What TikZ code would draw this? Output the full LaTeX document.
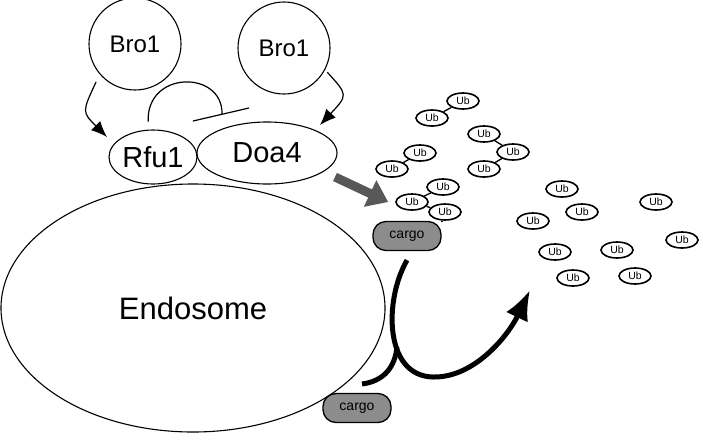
\documentclass[tikz,border=0pt]{standalone}
\usepackage{fontspec}
\setmainfont{Liberation Sans}
\usetikzlibrary{shapes.geometric,arrows.meta}
\definecolor{cargogray}{RGB}{140,140,140}
\definecolor{arrowgray}{RGB}{88,88,88}

\begin{document}
\begin{tikzpicture}[x=1pt,y=-1pt,
    prot/.style={draw,ellipse,line width=1.1pt,inner sep=0pt},
    bro/.style={draw,circle,line width=1.1pt,minimum size=92pt,inner sep=0pt,font=\fontsize{24}{28}\selectfont},
    ub/.style={draw,ellipse,line width=1.6pt,minimum width=32pt,minimum height=16pt,inner sep=0pt,font=\fontsize{10.5}{11}\selectfont},
    cargo/.style={draw,fill=cargogray,rounded corners=13pt,line width=1.3pt,minimum width=68pt,minimum height=29pt,inner sep=0pt,font=\fontsize{14}{15}\selectfont},
    arr/.style={-{Latex[length=16pt,width=13pt]},line width=1.2pt}]
     \useasboundingbox (0,0) rectangle (701,432);
     \node[prot,minimum width=384pt,minimum height=248pt,font=\fontsize{31}{34}\selectfont] (endo) at (193,308) {Endosome};
     \node[prot,minimum width=88pt,minimum height=54pt,font=\fontsize{29}{32}\selectfont] (rfu1) at (153,157) {Rfu1};
     \node[prot,minimum width=140pt,minimum height=62pt,font=\fontsize{29}{32}\selectfont] (doa4) at (267,153) {Doa4};
     \node[bro] (bro1a) at (135,44) {Bro1};
     \node[bro] (bro1b) at (284,48) {Bro1};
     \coordinate (tipa) at (107,137);
     \coordinate (tipb) at (320,125);
     \draw[arr] ([shift={(-6pt,-5pt)}]bro1a.225) .. controls (82,112) .. (tipa);
     \draw[arr] ([shift={(3pt,-1pt)}]bro1b.-30) .. controls (348,95) .. (tipb);
     % inhibition
     \coordinate (bara) at (193,121);
     \coordinate (barb) at (249,108);
     \coordinate (barm) at (222,114);
     \draw[line width=1.2pt] (bara) -- (barb);
     \draw[line width=1.2pt] ([yshift=8pt]rfu1.100) .. controls (146,70) and (223,70) .. (barm);
     % ubiquitin chains
     \node[ub] (ua1) at (432,118) {Ub};
     \node[ub] (ua2) at (463,101) {Ub};
     \node[ub] (ub1) at (484,134) {Ub};
     \node[ub] (ub2) at (513,152) {Ub};
     \node[ub] (ub3) at (484,169) {Ub};
     \node[ub] (uc1) at (392,169) {Ub};
     \node[ub] (uc2) at (420,153) {Ub};
     \node[ub] (ud1) at (412,202) {Ub};
     \node[ub] (ud2) at (443,187) {Ub};
     \node[ub] (ud3) at (445,212) {Ub};
     \draw[line width=1.3pt] (ua1) -- (ua2);
     \draw[line width=1.3pt] (ub2) -- (ub1);
     \draw[line width=1.3pt] (ub2) -- (ub3);
     \draw[line width=1.3pt] (uc1) -- (uc2);
     \draw[line width=1.3pt] (ud1) -- (ud2);
     \draw[line width=1.3pt] (ud1) -- (ud3);
     \node[cargo] (cargoa) at (407,236) {cargo};
     \node[cargo] (cargob) at (357,408) {cargo};
     \draw[line width=1.3pt] (ud3.250) -- (ud3.250 |- cargoa.north);
     \foreach \p [count=\i] in {(562,189),(582,212),(533,221),(656,202),(682,240),(555,252),(617,250),(573,278),(635,276)}
          \node[ub] (uf\i) at \p {Ub};
     % deubiquitination
     \coordinate (graytail) at (335,177);
     \draw[arrowgray,line width=9pt,-{Triangle[length=20pt,width=28pt]}] (graytail) -- ([xshift=-7pt]ud1.west);
     % sorting
     \coordinate (sorttip) at (530,290);
     \coordinate (sortjoin) at (397,347);
     \coordinate (cargobtop) at (362,384);
     \draw[line width=5pt,-{Latex[length=30pt,width=24pt]}] ([yshift=-9pt]cargoa.south) .. controls (384,300) and (384,376) .. (433,377) .. controls (474,378) and (508,336) .. (sorttip);
     \draw[line width=5pt] (cargobtop) .. controls (385,381) and (395,366) .. (sortjoin);
\end{tikzpicture}
\end{document}
